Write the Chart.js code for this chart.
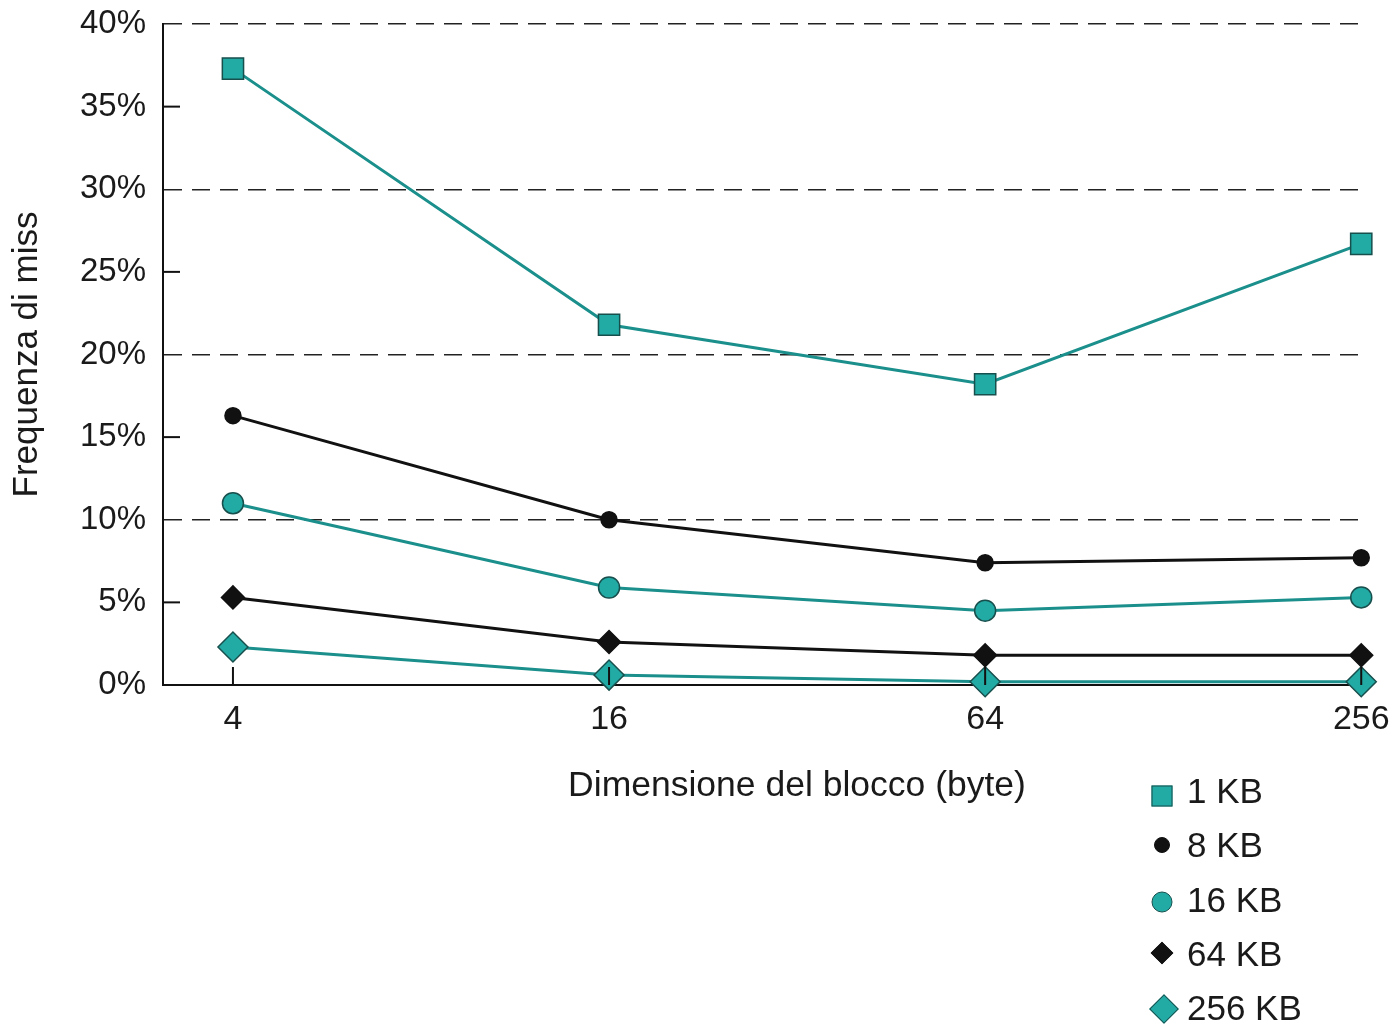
<!DOCTYPE html>
<html>
<head>
<meta charset="utf-8">
<script src="https://cdn.jsdelivr.net/npm/chart.js@4/dist/chart.umd.min.js"></script>
<style>
  html, body { margin: 0; padding: 0; background: #ffffff; }
  #wrap { position: relative; width: 1397px; height: 1027px; font-family: "Liberation Sans", Arial, sans-serif; color: #1a1a1a; }
  #c { position: absolute; left: 0; top: 0; }
  #xtitle { position: absolute; left: 797px; top: 784px; transform: translate(-50%, -50%); font-size: 35.5px; white-space: nowrap; }
  .lg { position: absolute; left: 1187px; font-size: 35px; line-height: 1; transform: translateY(-50%); white-space: nowrap; }
  .mk { position: absolute; box-sizing: border-box; transform: translate(-50%, -50%); }
</style>
</head>
<body>
<div id="wrap">
  <canvas id="c" width="1397" height="1027"></canvas>
  <div id="xtitle">Dimensione del blocco (byte)</div>
  <div id="legend"></div>
</div>
<script>
// ---- data ----
const blockSizes = ['4', '16', '64', '256'];
const cacheSizes = ['1 KB', '8 KB', '16 KB', '64 KB', '256 KB'];
const miss1KB   = [37.3, 21.8, 18.2, 26.7];
const miss8KB   = [16.3, 10.0, 7.4, 7.7];
const miss16KB  = [11.0, 5.9, 4.5, 5.3];
const miss64KB  = [5.3, 2.6, 1.8, 1.8];
const miss256KB = [2.3, 0.6, 0.2, 0.2];
const yTickValues = [0, 5, 10, 15, 20, 25, 30, 35, 40];

const TEAL = '#22aaa5';
const TEAL_LINE = '#1a8f8b';
const TEAL_EDGE = '#174f4d';
const BLACK = '#111111';

const seriesValues = [miss1KB, miss8KB, miss16KB, miss64KB, miss256KB];
const styles = [
  { line: TEAL_LINE, fill: TEAL,  edge: TEAL_EDGE, pt: 'rect',    r: 15 },
  { line: BLACK,     fill: BLACK, edge: BLACK,     pt: 'circle',  r: 8 },
  { line: TEAL_LINE, fill: TEAL,  edge: TEAL_EDGE, pt: 'circle',  r: 10.5 },
  { line: BLACK,     fill: BLACK, edge: BLACK,     pt: 'rectRot', r: 11.5 },
  { line: TEAL_LINE, fill: TEAL,  edge: TEAL_EDGE, pt: 'rectRot', r: 15 }
];

const datasets = cacheSizes.map((name, k) => ({
  label: name,
  data: seriesValues[k].map((v, i) => ({ x: i, y: v })),
  borderColor: styles[k].line,
  borderWidth: 3,
  backgroundColor: styles[k].fill,
  pointBackgroundColor: styles[k].fill,
  pointBorderColor: styles[k].edge,
  pointBorderWidth: 1.5,
  pointStyle: styles[k].pt,
  pointRadius: styles[k].r,
  pointHoverRadius: styles[k].r,
  tension: 0,
  fill: false,
  clip: false
}));

// inner tick marks on the axes (y at odd multiples of 5, x at the categories)
const innerTicks = {
  id: 'innerTicks',
  afterDatasetsDraw(chart) {
    const { ctx, chartArea, scales } = chart;
    ctx.save();
    ctx.strokeStyle = BLACK;
    ctx.lineWidth = 2;
    yTickValues.filter(v => v % 10 === 5).forEach(v => {
      const y = scales.y.getPixelForValue(v);
      ctx.beginPath();
      ctx.moveTo(chartArea.left, y);
      ctx.lineTo(chartArea.left + 17, y);
      ctx.stroke();
    });
    blockSizes.forEach((_, i) => {
      const x = scales.x.getPixelForValue(i);
      ctx.beginPath();
      ctx.moveTo(x, chartArea.bottom);
      ctx.lineTo(x, chartArea.bottom - 18);
      ctx.stroke();
    });
    ctx.restore();
  }
};

Chart.defaults.font.family = '"Liberation Sans", Arial, sans-serif';
Chart.defaults.color = '#1a1a1a';

new Chart(document.getElementById('c'), {
  type: 'line',
  data: { datasets },
  options: {
    responsive: false,
    animation: false,
    events: [],
    layout: { padding: { top: 24, right: 32, left: 0, bottom: 0 } },
    plugins: { legend: { display: false }, tooltip: { enabled: false } },
    scales: {
      x: {
        type: 'linear',
        min: -0.186,
        max: 3.01,
        afterBuildTicks: s => { s.ticks = blockSizes.map((_, i) => ({ value: i })); },
        afterFit: s => { s.height = 342; s.paddingLeft = 0; s.paddingRight = 0; },
        ticks: {
          callback: v => blockSizes[v],
          font: { size: 34 },
          padding: 14,
          maxRotation: 0,
          autoSkip: false
        },
        grid: { display: false, drawTicks: false },
        border: { display: true, color: BLACK, width: 2 }
      },
      y: {
        min: 0,
        max: 40,
        afterBuildTicks: s => { s.ticks = yTickValues.map(v => ({ value: v })); },
        afterFit: s => { s.width = 163; s.paddingTop = 0; s.paddingBottom = 0; },
        ticks: {
          callback: v => v + '%',
          font: { size: 33 },
          padding: 17
        },
        grid: {
          drawTicks: false,
          color: c => (c.tick && c.tick.value % 10 === 0 && c.tick.value > 0) ? '#222222' : 'rgba(0,0,0,0)',
          lineWidth: 1.5
        },
        border: { display: true, color: BLACK, width: 2, dash: [18, 10] },
        title: {
          display: true,
          text: 'Frequenza di miss',
          font: { size: 35 },
          padding: { top: 6, bottom: 0 }
        }
      }
    }
  },
  plugins: [innerTicks]
});

// legend (HTML text, CSS markers)
const legendRows = [796, 845, 902, 953, 1009];
const legendTextY = [790, 844, 899, 953, 1007];
const lg = document.getElementById('legend');
cacheSizes.forEach((name, k) => {
  const st = styles[k];
  const m = document.createElement('div');
  m.className = 'mk';
  let size;
  if (st.pt === 'rect') { size = 21; }
  else if (st.pt === 'circle') { size = Math.round(st.r * 2); m.style.borderRadius = '50%'; }
  else { size = Math.round(st.r * 1.414); }
  m.style.width = size + 'px';
  m.style.height = size + 'px';
  m.style.left = (k === 4 ? 1164 : 1162) + 'px';
  m.style.top = legendRows[k] + 'px';
  m.style.background = st.fill;
  m.style.border = '1.5px solid ' + st.edge;
  if (st.pt === 'rectRot') m.style.transform = 'translate(-50%, -50%) rotate(45deg)';
  lg.appendChild(m);
  const t = document.createElement('div');
  t.className = 'lg';
  t.style.top = legendTextY[k] + 'px';
  t.textContent = name;
  lg.appendChild(t);
});
</script>
</body>
</html>
